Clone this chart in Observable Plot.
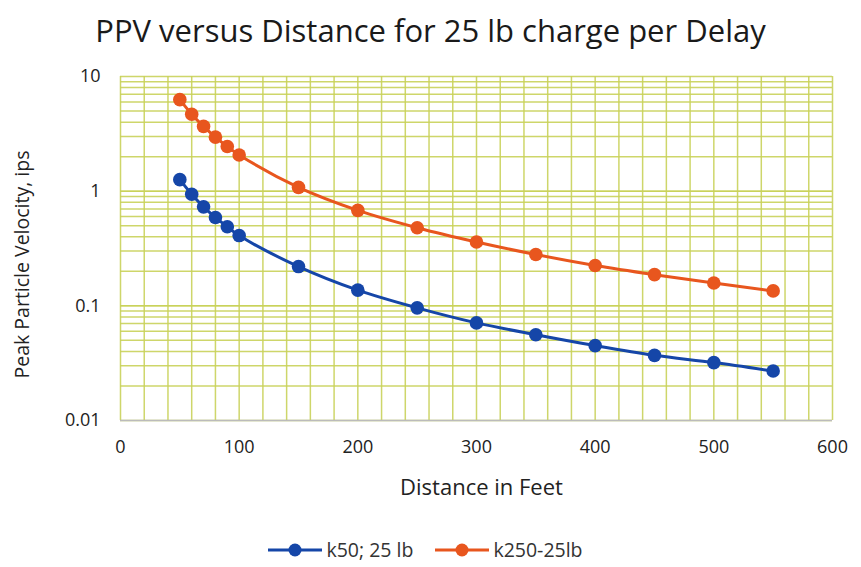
<!DOCTYPE html>
<html>
<head>
<meta charset="utf-8">
<script src="https://cdn.jsdelivr.net/npm/d3@7"></script>
<script src="https://cdn.jsdelivr.net/npm/@observablehq/plot@0.6"></script>
<style>
  body { margin: 0; background: #fff; font-family: "Open Sans", "Noto Sans", sans-serif; color: #222; }
  #title { height: 60px; line-height: 60px; text-align: center; font-size: 31px; color: #1a1a1a; padding-right: 0px; }
  #legend { display: flex; justify-content: center; align-items: center; gap: 22px; font-size: 19.5px; color: #333; margin-top: 6px; padding-right: 10px; }
  .item { display: flex; align-items: center; gap: 4px; }
</style>
</head>
<body>
<div id="title">PPV versus Distance for 25 lb charge per Delay</div>
<div id="chart"></div>
<div id="legend"></div>
<script>
const distances = [50, 60, 70, 80, 90, 100, 150, 200, 250, 300, 350, 400, 450, 500, 550];
const k50Values = [1.26, 0.94, 0.73, 0.59, 0.49, 0.41, 0.22, 0.137, 0.096, 0.071, 0.056, 0.045, 0.037, 0.032, 0.027];
const k250Values = [6.28, 4.69, 3.67, 2.96, 2.45, 2.07, 1.08, 0.68, 0.48, 0.36, 0.28, 0.225, 0.187, 0.158, 0.135];
const seriesNames = ["k50; 25 lb", "k250-25lb"];
const seriesColors = ["#1546a8", "#e8561e"];
const xTicks = [0, 100, 200, 300, 400, 500, 600];
const yTicks = [0.01, 0.1, 1, 10];

const data = [];
distances.forEach((d, i) => {
  data.push({ series: seriesNames[0], x: d, y: k50Values[i] });
  data.push({ series: seriesNames[1], x: d, y: k250Values[i] });
});

const xGrid = d3.range(0, 601, 20);
const yGrid = [];
for (const dec of [0.01, 0.1, 1]) for (let m = 1; m <= 10; m++) yGrid.push(+(dec * m).toPrecision(3));

const chart = Plot.plot({
  width: 861,
  height: 470,
  marginLeft: 120,
  marginRight: 29,
  marginTop: 16,
  marginBottom: 110,
  style: { fontFamily: "Open Sans, Noto Sans, sans-serif", fontSize: "18px", color: "#222" },
  x: { domain: [0, 600], ticks: xTicks, tickSize: 0, tickPadding: 20, label: null },
  y: { type: "log", domain: [0.01, 10], ticks: yTicks, tickFormat: d => String(d), tickSize: 0, tickPadding: 20, label: null },
  color: { domain: seriesNames, range: seriesColors },
  marks: [
    Plot.ruleX(xGrid, { stroke: "#c9d25a", strokeWidth: 1.5, strokeOpacity: 0.9 }),
    Plot.ruleY(yGrid, { stroke: "#c9d25a", strokeWidth: 1.5, strokeOpacity: 0.9 }),
    Plot.ruleY([0.01], { stroke: "#bbbbbb", strokeWidth: 1.5 }),
    Plot.line(data, { x: "x", y: "y", stroke: "series", strokeWidth: 3, curve: "catmull-rom" }),
    Plot.dot(data, { x: "x", y: "y", fill: "series", r: 6.8 }),
    Plot.axisX({ ticks: xTicks, tickSize: 0, tickPadding: 20, label: null }),
    Plot.axisY({ ticks: yTicks, tickFormat: d => String(d), tickSize: 0, tickPadding: 20, label: null }),
    Plot.text(["Distance in Feet"], { frameAnchor: "bottom", dx: 5, dy: 74, fontSize: 22, fill: "#222", textAnchor: "middle" }),
    Plot.text(["Peak Particle Velocity, ips"], { frameAnchor: "left", dx: -98, dy: 16, rotate: -90, fontSize: 19.5, fill: "#222", textAnchor: "middle" })
  ]
});
document.getElementById("chart").appendChild(chart);

const legend = document.getElementById("legend");
seriesNames.forEach((name, i) => {
  const item = document.createElement("div");
  item.className = "item";
  item.innerHTML = `<svg width="54" height="16"><line x1="0" y1="8" x2="54" y2="8" stroke="${seriesColors[i]}" stroke-width="3"/><circle cx="27" cy="8" r="6.5" fill="${seriesColors[i]}"/></svg><span>${name}</span>`;
  legend.appendChild(item);
});
</script>
</body>
</html>
